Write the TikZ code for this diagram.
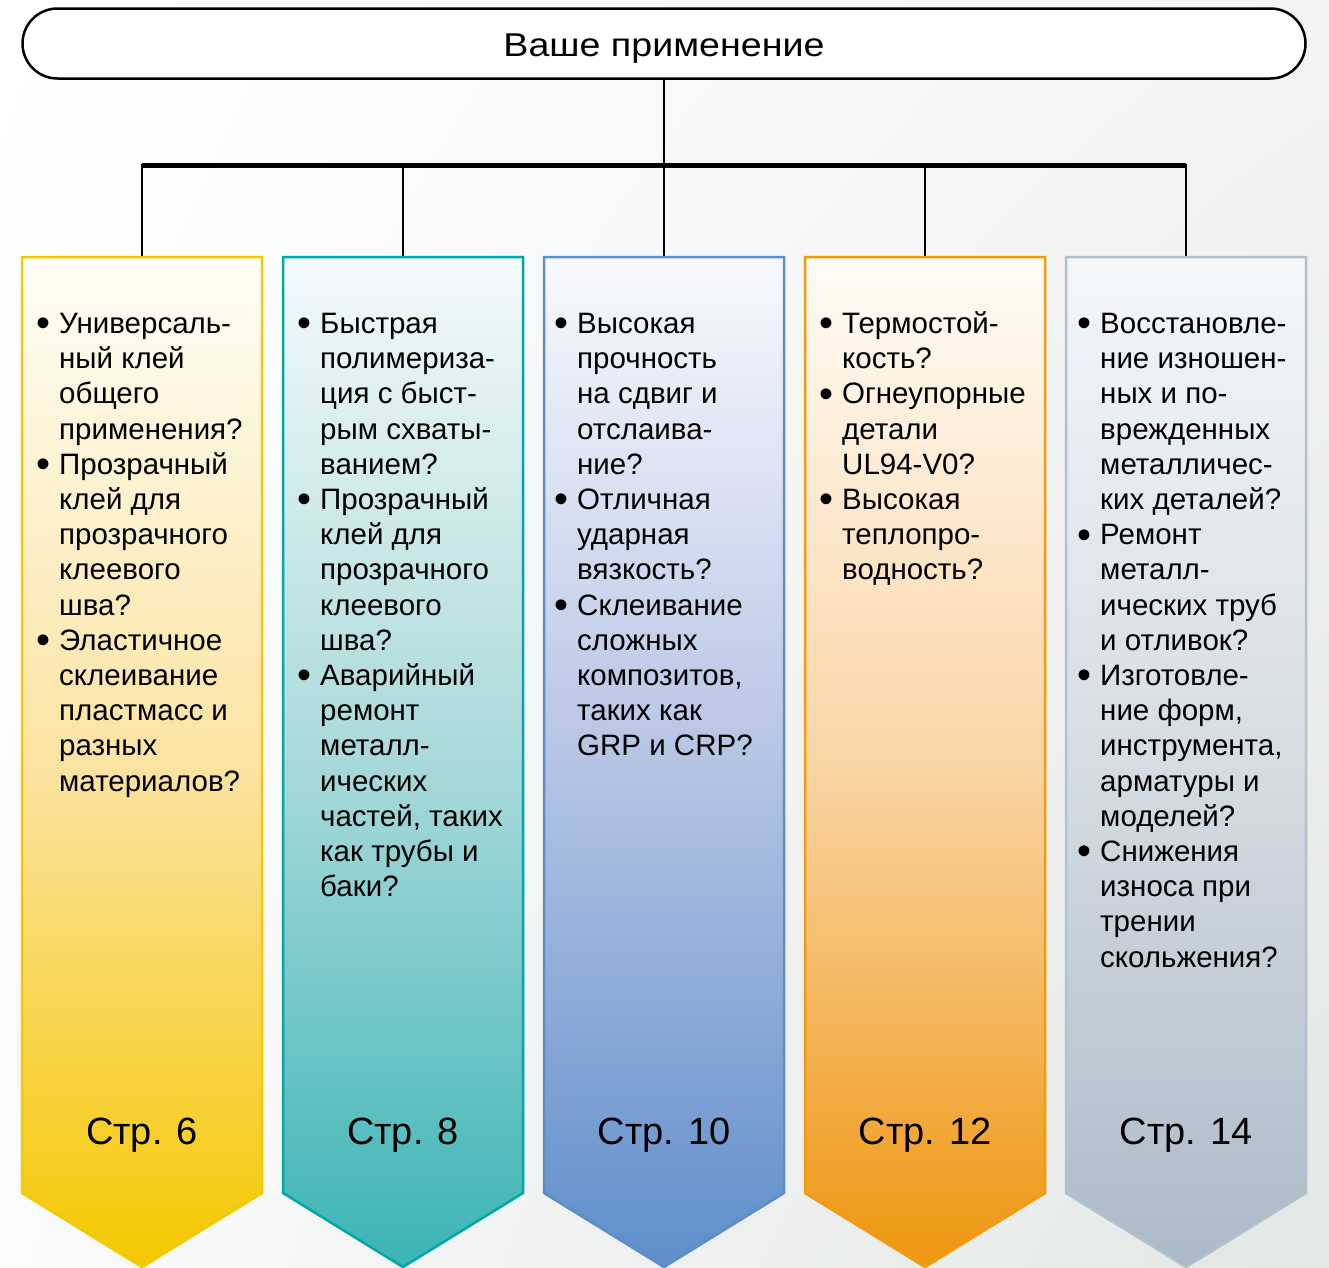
\documentclass[tikz,border=0pt]{standalone}
\usepackage{fontspec}
\usepackage{graphicx}
\setmainfont{Liberation Sans}
\newfontfamily\titlefont[FakeStretch=1.14]{Liberation Sans}
\usetikzlibrary{calc,shadings}
\definecolor{yBd}{HTML}{F5C900}
\definecolor{yTp}{HTML}{FFFDF6}
\definecolor{yMd}{HTML}{FBE3A2}
\definecolor{yBt}{HTML}{F4C800}
\definecolor{tBd}{HTML}{00A7AA}
\definecolor{tTp}{HTML}{F4FAFA}
\definecolor{tMd}{HTML}{A9D9DA}
\definecolor{tBt}{HTML}{3BB4B5}
\definecolor{bBd}{HTML}{5B8ECB}
\definecolor{bTp}{HTML}{F9F9FE}
\definecolor{bMd}{HTML}{B5C4E4}
\definecolor{bBt}{HTML}{5E8ECA}
\definecolor{oBd}{HTML}{F29B0F}
\definecolor{oTp}{HTML}{FFFCF6}
\definecolor{oMd}{HTML}{FAD5A6}
\definecolor{oBt}{HTML}{EE960F}
\definecolor{gBd}{HTML}{B3C1CD}
\definecolor{gTp}{HTML}{F5F7F9}
\definecolor{gMd}{HTML}{D5DCE3}
\definecolor{gBt}{HTML}{ABBAC7}
\definecolor{bgUR}{HTML}{F3F4F5}
\definecolor{bgLL}{HTML}{FBFBFB}
\definecolor{bgLR}{HTML}{E2E7E5}
\newcommand{\bu}{\leavevmode\llap{\raisebox{-3.3pt}{\scalebox{1.35}{\char"2022}}\hspace{8.5pt}}}
\newcommand{\coltxt}[1]{\parbox[t]{235pt}{\fontsize{29.5}{35.2}\selectfont\raggedright #1}}
\begin{document}
\begin{tikzpicture}[x=1pt,y=-1pt,
  colframe/.style={anchor=north, minimum width=240pt, minimum height=936pt, inner sep=0pt, outer sep=0pt},
  coltext/.style={anchor=base west, inner sep=0pt},
  pagelbl/.style={anchor=base, inner sep=0pt, font=\fontsize{38}{40}\selectfont},
  link/.style={line width=2.5pt, line cap=rect}]
\useasboundingbox (0,0) rectangle (1329,1267);
\shade[upper left=white, upper right=bgUR, lower left=bgLL, lower right=bgLR] (0,0) rectangle (1329,1267);

\node[draw, fill=white, line width=2.5pt, rounded corners=35pt, minimum width=1283pt, minimum height=70pt, inner sep=0pt,
  text height=25pt, text depth=0pt, font=\titlefont\fontsize{33}{35}\selectfont] (title) at (664,43.5) {Ваше применение};

\foreach \n/\x in {c1/142, c2/403, c3/664, c4/925, c5/1186}
  \node[colframe] (\n) at (\x,257) {};

\coordinate (bar) at (664,165);
\draw[line width=2.2pt] (title.south) -- (title.south |- bar);
\draw[line width=5pt] (c1.north |- bar) -- (c5.north |- bar);
\foreach \n in {c1,c2,c3,c4,c5}
  \draw[link] (\n.north |- bar) -- (\n.north);

\foreach \n/\p in {c1/y, c2/t, c3/b, c4/o, c5/g}
  \draw[line width=2.5pt, line join=miter, draw=\p Bd, top color=\p Tp, bottom color=\p Bt, middle color=\p Md]
    (\n.north west) -- (\n.north east) -- (\n.south east) -- ($(\n.south)+(0,74)$) -- (\n.south west) -- cycle;

\node[coltext] (t1) at (59,333.5) {\coltxt{\bu Универсаль-\\ный клей\\общего\\применения?\\\bu Прозрачный\\клей для\\прозрачного\\клеевого\\шва?\\\bu Эластичное\\склеивание\\пластмасс и\\разных\\материалов?}};
\node[coltext] (t2) at (320,333.5) {\coltxt{\bu Быстрая\\полимериза-\\ция с быст-\\рым схваты-\\ванием?\\\bu Прозрачный\\клей для\\прозрачного\\клеевого\\шва?\\\bu Аварийный\\ремонт\\металл-\\ических\\частей, таких\\как трубы и\\баки?}};
\node[coltext] (t3) at (577,333.5) {\coltxt{\bu Высокая\\прочность\\на сдвиг и\\отслаива-\\ние?\\\bu Отличная\\ударная\\вязкость?\\\bu Склеивание\\сложных\\композитов,\\таких как\\GRP и CRP?}};
\node[coltext] (t4) at (842,333.5) {\coltxt{\bu Термостой-\\кость?\\\bu Огнеупорные\\детали\\UL94-V0?\\\bu Высокая\\теплопро-\\водность?}};
\node[coltext] (t5) at (1100,333.5) {\coltxt{\bu Восстановле-\\ние изношен-\\ных и по-\\врежденных\\металличес-\\ких деталей?\\\bu Ремонт\\металл-\\ических труб\\и отливок?\\\bu Изготовле-\\ние форм,\\инструмента,\\арматуры и\\моделей?\\\bu Снижения\\износа при\\трении\\скольжения?}};

\foreach \n/\s in {c1/6, c2/8, c3/10, c4/12, c5/14}
  \node[pagelbl] (p\n) at (\n.north |- 0,1144) {Стр. \s};
\end{tikzpicture}
\end{document}
